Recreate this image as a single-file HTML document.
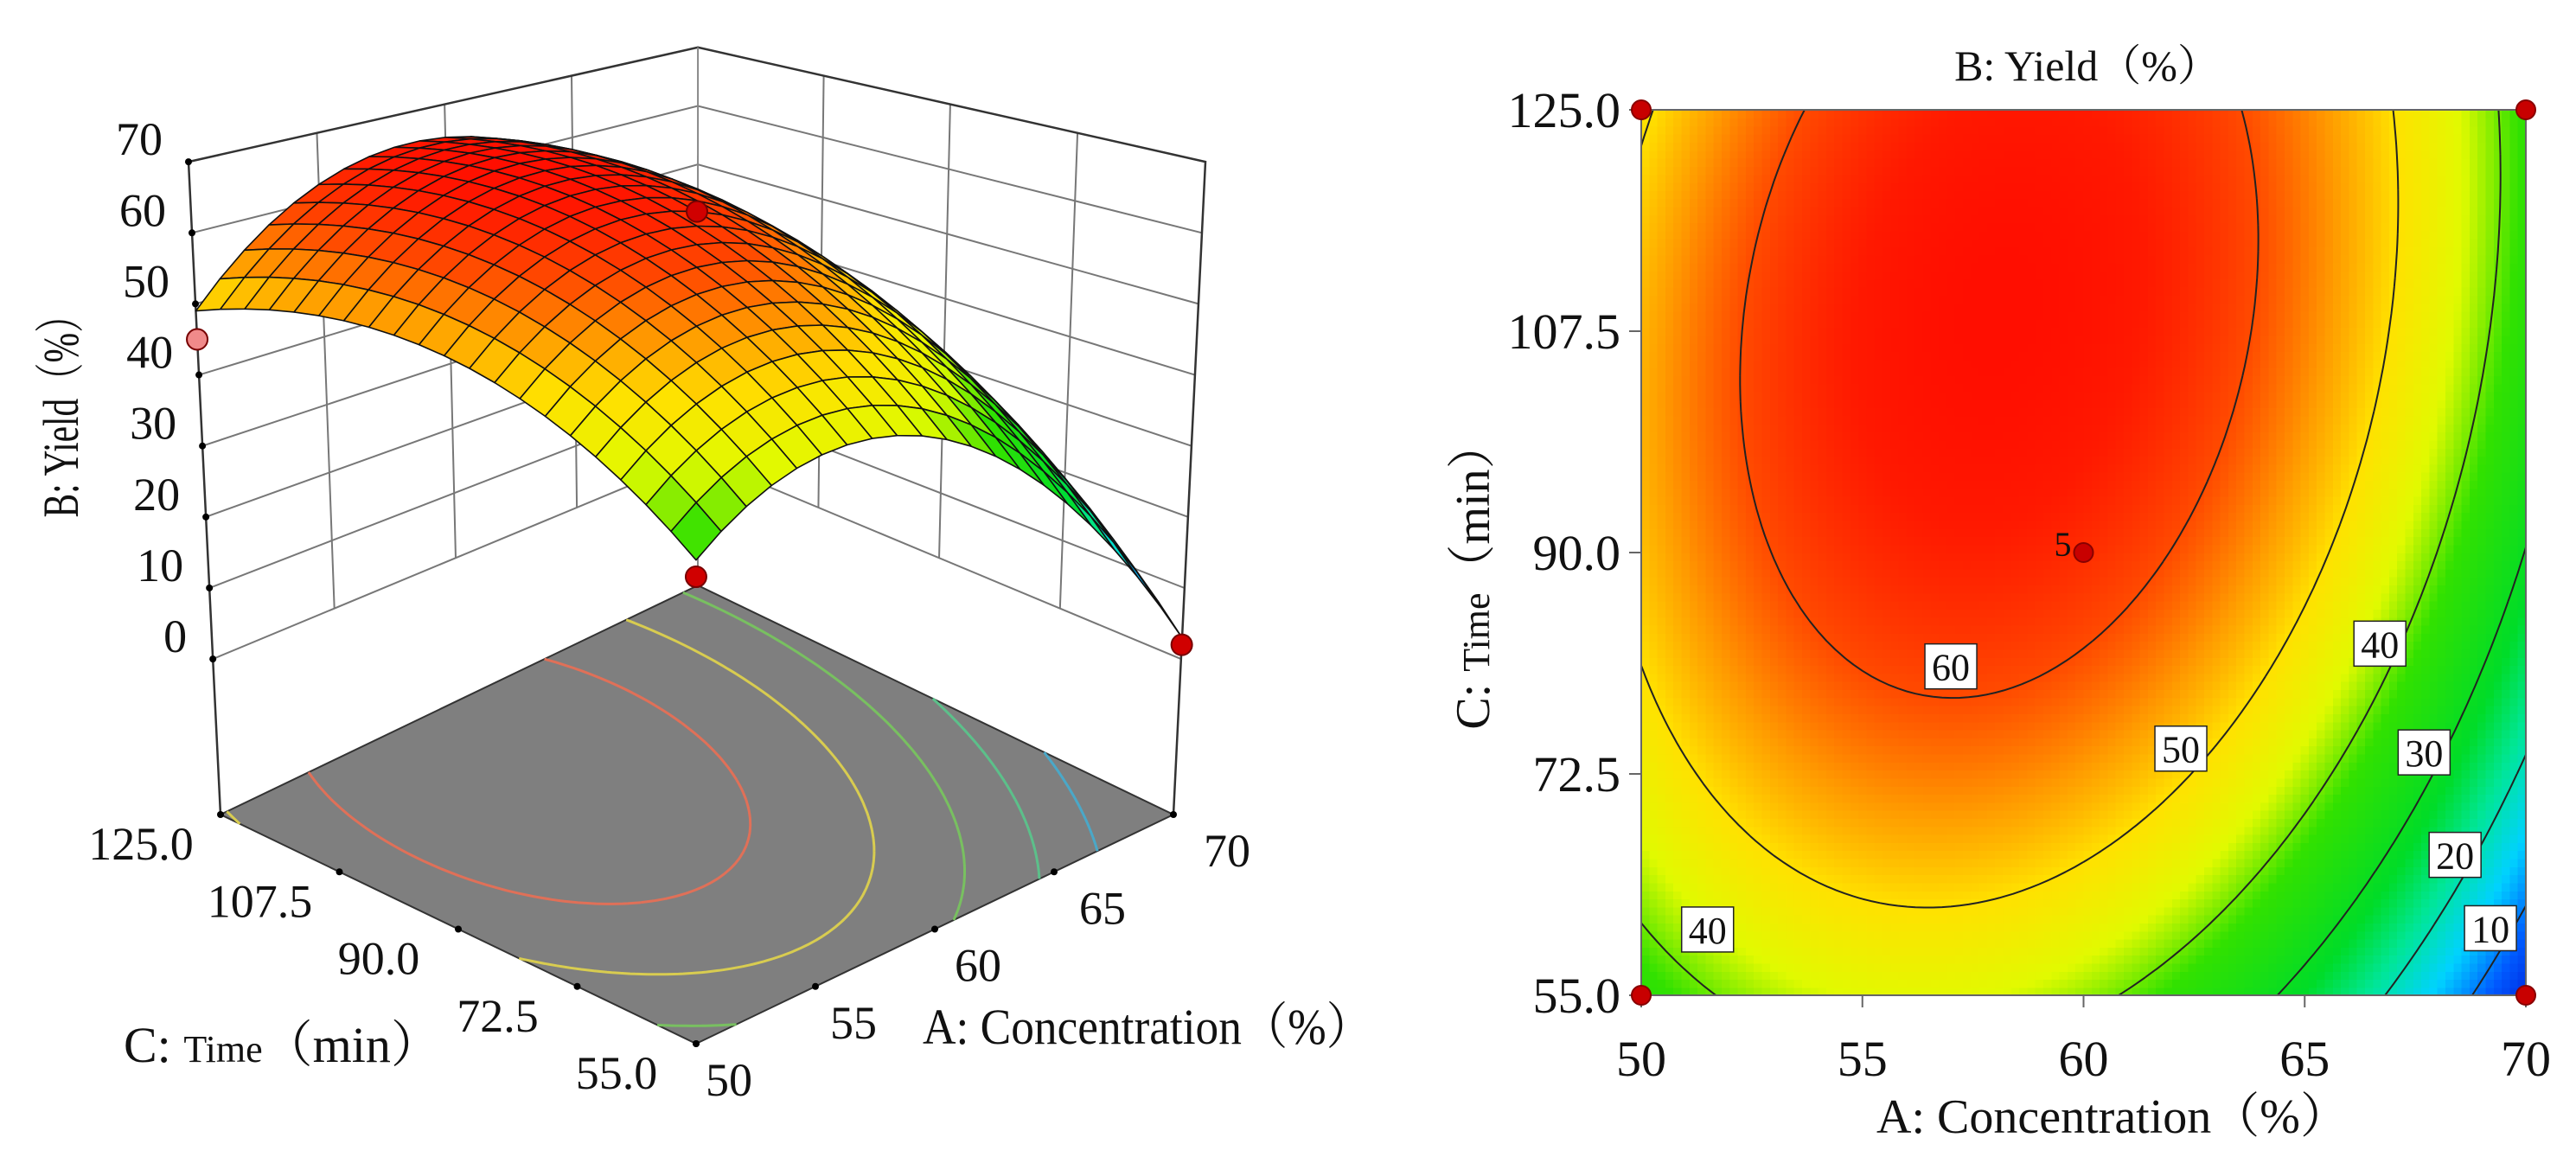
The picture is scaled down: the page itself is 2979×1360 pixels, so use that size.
<!DOCTYPE html>
<html><head><meta charset="utf-8">
<style>
html,body{margin:0;padding:0;background:#fff;}
svg{display:block;}
text{font-family:"Liberation Serif","Noto Serif CJK SC",serif;fill:#111;}
</style></head>
<body>
<svg id="fig" width="2979" height="1360" viewBox="0 0 2979 1360" xmlns="http://www.w3.org/2000/svg">
  <g id="surf3d"></g>
  <g id="contour"></g>
</svg>
<script>
// ---- model data (coded quadratic: b0, bA, bC, bAC, bAA, bCC) ----
const coefs = [63, -11.25, 11.75, 5.25, -21.95, -9.8];
const aRange = [50, 70];
const cRange = [55, 125];
const zTicks = [0, 10, 20, 30, 40, 50, 60, 70];
const aTicks = [50, 55, 60, 65, 70];
const cTicks = [55.0, 72.5, 90.0, 107.5, 125.0];
const cTickLabels = ["55.0", "72.5", "90.0", "107.5", "125.0"];
const contourLevels = [10, 20, 30, 40, 50, 60];
const floorLevels = [20, 30, 40, 50, 60];
const floorColors = ["#4aa8c8", "#5cc08a", "#78c060", "#d8cc50", "#e07058"];
// design points shown in 3D (A, C, Yield)
const ptA3 = [50, 60, 50, 70];
const ptC3 = [125, 90, 55, 55];
const ptY3 = [45, 63, 34, 2];
const ptFill3 = ["#f08a8a", "#d00000", "#d00000", "#d00000"];
// design points shown in contour plot
const ptA2 = [50, 70, 50, 70, 60];
const ptC2 = [125, 125, 55, 55, 90];
// contour label positions (A, C, text)
const labA = [57.0, 62.2, 66.7, 67.7, 68.4, 69.2, 51.5];
const labC = [81.0, 74.5, 82.8, 74.2, 66.1, 60.3, 60.2];
const labT = ["60", "50", "40", "30", "20", "10", "40"];

const NS = "http://www.w3.org/2000/svg";
function mk(tag, attrs, parent){const e=document.createElementNS(NS,tag);for(const k in attrs)e.setAttribute(k,attrs[k]);if(parent)parent.appendChild(e);return e;}

function model(A, C){
  const x=(A-60)/10, t=(C-90)/35;
  return coefs[0]+coefs[1]*x+coefs[2]*t+coefs[3]*x*t+coefs[4]*x*x+coefs[5]*t*t;
}
const stops=[[0,[0,20,210]],[8,[0,90,255]],[15,[0,210,255]],[22,[0,230,150]],[28,[0,220,40]],[38,[50,225,0]],[44,[225,250,0]],[50,[255,225,0]],[55,[255,155,0]],[60,[255,75,0]],[65,[255,25,0]],[70,[255,0,0]]];
function cmap(z){
  if(z<=stops[0][0])return `rgb(${stops[0][1]})`;
  for(let i=1;i<stops.length;i++){if(z<=stops[i][0]){const a=stops[i-1],b=stops[i];const f=(z-a[0])/(b[0]-a[0]);const c=a[1].map((v,k)=>Math.round(v+(b[1][k]-v)*f));return `rgb(${c})`;}}
  return `rgb(${stops[stops.length-1][1]})`;
}
function march(N, f, level){
  const segs=[];
  for(let i=0;i<N;i++)for(let j=0;j<N;j++){
    const c=[[i,j],[i+1,j],[i+1,j+1],[i,j+1]];
    const vals=c.map(p=>f[p[0]][p[1]]);
    const pts=[];
    for(let k=0;k<4;k++){const a=c[k],b=c[(k+1)%4],va=vals[k],vb=vals[(k+1)%4];
      if((va<level)!==(vb<level)){const s=(level-va)/(vb-va);pts.push([(a[0]+(b[0]-a[0])*s)/N,(a[1]+(b[1]-a[1])*s)/N]);}}
    if(pts.length===2)segs.push(pts);
    else if(pts.length===4){segs.push([pts[0],pts[1]]);segs.push([pts[2],pts[3]]);}
  }
  return segs;
}
const uToA=u=>aRange[0]+u*(aRange[1]-aRange[0]);
const vToC=v=>cRange[0]+v*(cRange[1]-cRange[0]);

// ================= 3D surface =================
(function(){
  const g=document.getElementById('surf3d');
  const F=[805,1207],R=[1357,942],L=[255,942],B=[807,677];
  const kF=9.66,kR=8.214,kL=8.214,kB=6.77,zmin=-21.9;
  function proj(u,v,z){
    const w0=(1-u)*(1-v),w1=u*(1-v),w2=(1-u)*v,w3=u*v;
    const px=F[0]*w0+R[0]*w1+L[0]*w2+B[0]*w3, py=F[1]*w0+R[1]*w1+L[1]*w2+B[1]*w3;
    const k=kF*w0+kR*w1+kL*w2+kB*w3; const h=(z-zmin)*k;
    return [px+(px-806)*8.9e-5*h, py-h];
  }
  const P=(u,v,z)=>proj(u,v,z).map(n=>n.toFixed(1)).join(',');
  const un=A=>(A-aRange[0])/(aRange[1]-aRange[0]);
  const vn=C=>(C-cRange[0])/(cRange[1]-cRange[0]);
  const walls=mk('g',{},g);
  
  
  for(const z of zTicks){
    mk('polyline',{points:`${P(0,1,z)} ${P(1,1,z)} ${P(1,0,z)}`,fill:'none',stroke:'#777','stroke-width':2},walls);
  }
  for(const f of [0.25,0.5,0.75]){
    mk('line',{x1:proj(f,1,0)[0],y1:proj(f,1,0)[1],x2:proj(f,1,70)[0],y2:proj(f,1,70)[1],stroke:'#777','stroke-width':2},walls);
    mk('line',{x1:proj(1,f,0)[0],y1:proj(1,f,0)[1],x2:proj(1,f,70)[0],y2:proj(1,f,70)[1],stroke:'#777','stroke-width':2},walls);
  }
  const edges=mk('g',{stroke:'#333','stroke-width':2.5,fill:'none'},g);
  
  
  mk('polyline',{points:`${P(0,1,zmin)} ${P(0,1,70)} ${P(1,1,70)} ${P(1,0,70)} ${P(1,0,zmin)}`},edges);
  mk('polyline',{points:`${P(1,1,zmin)} ${P(1,1,70)}`,stroke:'#888','stroke-width':2},edges);
  const fl=mk('polygon',{points:`${P(0,0,zmin)} ${P(1,0,zmin)} ${P(1,1,zmin)} ${P(0,1,zmin)}`,fill:'#7f7f7f',stroke:'#333','stroke-width':2},g);
  
  
  const NF=60, ff=[];
  for(let i=0;i<=NF;i++){ff.push([]);for(let j=0;j<=NF;j++)ff[i].push(model(uToA(i/NF),vToC(j/NF)));}
  floorLevels.forEach((lv,idx)=>{
    let d='';for(const s of march(NF,ff,lv)){d+=`M${P(s[0][0],s[0][1],zmin)}L${P(s[1][0],s[1][1],zmin)}`;}
    const p=mk('path',{d:d,stroke:floorColors[idx],'stroke-width':3,fill:'none'},g);
    
    
  });
  const N=20, quads=[];
  for(let i=0;i<N;i++)for(let j=0;j<N;j++){
    const u0=i/N,u1=(i+1)/N,v0=j/N,v1=(j+1)/N;
    const z=[model(uToA(u0),vToC(v0)),model(uToA(u1),vToC(v0)),model(uToA(u1),vToC(v1)),model(uToA(u0),vToC(v1))];
    quads.push({d:u0+u1+v0+v1,pts:`${P(u0,v0,z[0])} ${P(u1,v0,z[1])} ${P(u1,v1,z[2])} ${P(u0,v1,z[3])}`,z:(z[0]+z[1]+z[2]+z[3])/4});
  }
  quads.sort((a,b)=>b.d-a.d);
  const sg=mk('g',{},g);
  
  
  for(const q of quads){
    const el=mk('polygon',{points:q.pts,fill:cmap(q.z),stroke:'#111','stroke-width':1.6,'stroke-linejoin':'round'},sg);
    
    
  }
  for(let i=0;i<ptA3.length;i++){
    const p=proj(un(ptA3[i]),vn(ptC3[i]),ptY3[i]);
    const c=mk('circle',{cx:p[0],cy:p[1],r:12,fill:ptFill3[i],stroke:'#700','stroke-width':2},g);
    
    
  }
  for(const z of zTicks){
    const p=proj(0,1,z);
    mk('circle',{cx:p[0],cy:p[1],r:4,fill:'#000'},g);
    const t=mk('text',{x:p[0]-30,y:p[1]-8,'font-size':54,'text-anchor':'end'},g);
    t.textContent=z;
    
    
  }
  cTicks.forEach((c,i)=>{
    const v=vn(c);const p=proj(0,v,zmin);
    mk('circle',{cx:p[0],cy:p[1],r:4,fill:'#000'},g);
    const t=mk('text',{x:p[0]-92,y:p[1]+52,'font-size':54,'text-anchor':'middle'},g);
    t.textContent=cTickLabels[i];
    
    
  });
  aTicks.forEach(a=>{
    const u=un(a);const p=proj(u,0,zmin);
    mk('circle',{cx:p[0],cy:p[1],r:4,fill:'#000'},g);
    const t=mk('text',{x:p[0]+38+24*u,y:p[1]+60,'font-size':54,'text-anchor':'middle'},g);
    t.textContent=a;
    
    
  });
})();
</script>
<svg style="position:absolute;left:0;top:0" width="2979" height="1360">
  <text transform="translate(90,471) rotate(-90)" text-anchor="middle" font-size="58" textLength="255" lengthAdjust="spacingAndGlyphs">B: Yield（%）</text>
  <text x="143" y="1228" font-size="58">C: <tspan font-size="44">Time</tspan>（min）</text>
  <text x="1067" y="1207" font-size="58" textLength="520" lengthAdjust="spacingAndGlyphs">A: Concentration（%）</text>
</svg>
<script>
// ================= Contour plot =================
(function(){
  const g=document.getElementById('contour');
  const X0=1898,X1=2921,Y0=1151,Y1=127;
  const xs=A=>X0+(A-aRange[0])/(aRange[1]-aRange[0])*(X1-X0);
  const ys=C=>Y0+(C-cRange[0])/(cRange[1]-cRange[0])*(Y1-Y0);
  const N=110, hm=mk('g',{'shape-rendering':'crispEdges'},g);
  
  
  const cw=(X1-X0)/N, ch=(Y0-Y1)/N;
  for(let i=0;i<N;i++)for(let j=0;j<N;j++){
    const A=uToA((i+0.5)/N), C=vToC((j+0.5)/N);
    const r=mk('rect',{x:(X0+i*cw).toFixed(1),y:(Y0-(j+1)*ch).toFixed(1),width:(cw+0.8).toFixed(1),height:(ch+0.8).toFixed(1),fill:cmap(model(A,C))},hm);
    
    
  }
  const NF=100, ff=[];
  for(let i=0;i<=NF;i++){ff.push([]);for(let j=0;j<=NF;j++)ff[i].push(model(uToA(i/NF),vToC(j/NF)));}
  for(const lv of contourLevels){
    let d='';for(const s of march(NF,ff,lv)){d+=`M${xs(uToA(s[0][0])).toFixed(1)},${ys(vToC(s[0][1])).toFixed(1)}L${xs(uToA(s[1][0])).toFixed(1)},${ys(vToC(s[1][1])).toFixed(1)}`;}
    const p=mk('path',{d:d,stroke:'#222','stroke-width':2,fill:'none'},g);
    
    
  }
  const fr=mk('rect',{x:X0,y:Y1,width:X1-X0,height:Y0-Y1,fill:'none',stroke:'#666','stroke-width':2},g);
  
  
  labT.forEach((t,i)=>{
    const x=xs(labA[i]),y=ys(labC[i]);
    const r=mk('rect',{x:x-30,y:y-26,width:60,height:52,fill:'#fff',stroke:'#222','stroke-width':1.5},g);
    
    
    const tx=mk('text',{x:x,y:y+16,'font-size':44,'text-anchor':'middle'},g);
    tx.textContent=t;
    
    
  });
  for(const a of aTicks){
    mk('line',{x1:xs(a),y1:Y0,x2:xs(a),y2:Y0+14,stroke:'#666','stroke-width':2},g);
    const t=mk('text',{x:xs(a),y:1244,'font-size':58,'text-anchor':'middle'},g);
    t.textContent=a;
    
    
  }
  cTicks.forEach((c,i)=>{
    mk('line',{x1:X0-14,y1:ys(c),x2:X0,y2:ys(c),stroke:'#666','stroke-width':2},g);
    const t=mk('text',{x:1874,y:ys(c)+20,'font-size':58,'text-anchor':'end'},g);
    t.textContent=cTickLabels[i];
    
    
  });
  for(let i=0;i<ptA2.length;i++){
    const c=mk('circle',{cx:xs(ptA2[i]),cy:ys(ptC2[i]),r:11,fill:'#c80000',stroke:'#800','stroke-width':2},g);
    
    
  }
  const five=mk('text',{x:xs(60)-14,y:ys(90)+4,'font-size':40,'text-anchor':'end'},g);
  five.textContent='5';
  
  
  const tt=mk('text',{x:2414,y:93,'font-size':50,'text-anchor':'middle'},g);
  tt.textContent='B: Yield（%）';
  
  
  const xt=mk('text',{x:2443,y:1310,'font-size':56,'text-anchor':'middle'},g);
  xt.textContent='A: Concentration（%）';
  
  
  const yt=mk('text',{transform:'translate(1722,665) rotate(-90)','font-size':56,'text-anchor':'middle'},g);
  yt.innerHTML='C: <tspan font-size="44">Time</tspan>（min）';
  
  
})();
</script>
</body></html>
